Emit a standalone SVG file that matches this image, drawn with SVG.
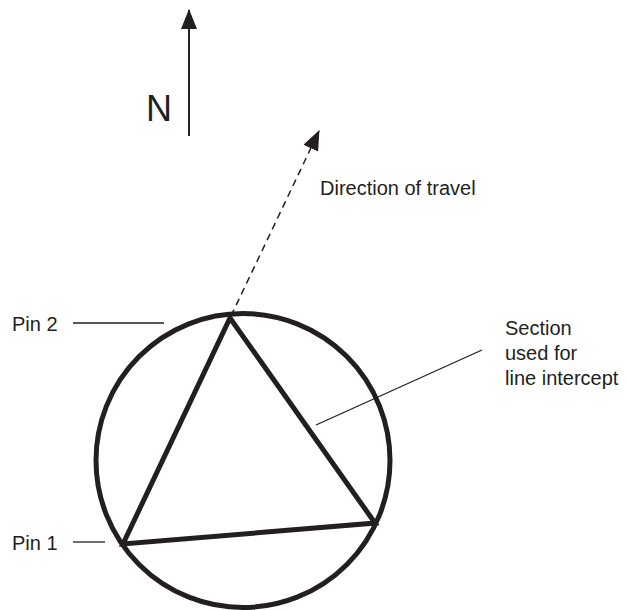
<svg xmlns="http://www.w3.org/2000/svg" width="629" height="610" viewBox="0 0 629 610">
<style>
text{font-family:"Liberation Sans",Arial,sans-serif;font-size:20px;fill:#231f20}
.thick{fill:none;stroke:#231f20;stroke-width:5}
.leader{fill:none;stroke:#231f20;stroke-width:1.3}
</style>
<defs>
<marker id="ah" viewBox="0 0 20 16" refX="19" refY="8" markerWidth="20" markerHeight="16" markerUnits="userSpaceOnUse" orient="auto">
<path d="M0,0 L20,8 L0,16 Z" fill="#231f20"/>
</marker>
</defs>
<rect width="629" height="610" fill="#fff"/>
<g id="north">
<line x1="189" y1="136" x2="189" y2="10" stroke="#231f20" stroke-width="2" marker-end="url(#ah)"/>
<text x="146" y="121" style="font-size:36px">N</text>
</g>
<g id="circle">
<circle cx="243" cy="460.5" r="147" class="thick"/>
</g>
<g id="triangle">
<polygon points="230,318 375,523 123,544" class="thick" stroke-linejoin="miter"/>
</g>
<g id="direction-label">
<text x="320" y="195">Direction of travel</text>
</g>
<g id="pin2">
<text x="12" y="331">Pin 2</text>
</g>
<g id="pin1">
<text x="12" y="550">Pin 1</text>
</g>
<g id="section-label">
<text x="505" y="335">Section</text>
<text x="505" y="360">used for</text>
<text x="505" y="385">line intercept</text>
</g>
<g id="connectors">
<line x1="231" y1="316" x2="319" y2="131" stroke="#231f20" stroke-width="1.5" stroke-dasharray="7,5" marker-end="url(#ah)"/>
<line x1="73" y1="323" x2="164" y2="323" class="leader"/>
<line x1="73" y1="542" x2="105" y2="542" class="leader"/>
<line x1="316" y1="425" x2="482" y2="350" class="leader"/>
</g>
</svg>
